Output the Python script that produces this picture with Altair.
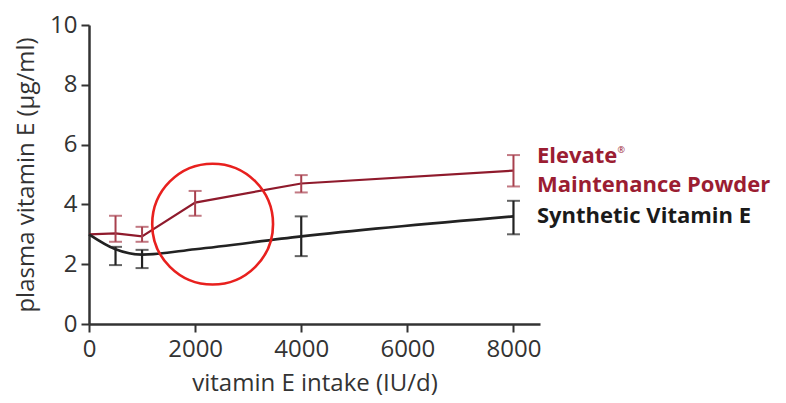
import altair as alt
import pandas as pd

# ---- data ----
doses = [0, 500, 1000, 2000, 4000, 8000]
elevate_line = [3.0, 3.03, 2.93, 4.06, 4.7, 5.13]
synthetic_doses = [0, 500, 1000, 2000, 4000, 8000]
synthetic_line = [3.0, 2.5, 2.32, 2.5, 2.93, 3.6]

err_doses_el = [500, 1000, 2000, 4000, 8000]
elevate_lo = [2.75, 2.75, 3.62, 4.4, 4.6]
elevate_hi = [3.62, 3.25, 4.45, 4.98, 5.65]

err_doses_syn = [500, 1000, 4000, 8000]
synthetic_lo = [1.97, 1.87, 2.27, 3.0]
synthetic_hi = [2.58, 2.48, 3.6, 4.12]

x_ticks = [0, 2000, 4000, 6000, 8000]
y_ticks = [0, 2, 4, 6, 8, 10]

RED = "#8f1a2c"
RED_ERR = "#a8404e"
BLACK = "#222222"
FONT = "Open Sans"

el_df = pd.DataFrame({"dose": doses, "value": elevate_line})
syn_df = pd.DataFrame({"dose": synthetic_doses, "value": synthetic_line})
err_el = pd.DataFrame({"dose": err_doses_el, "lo": elevate_lo, "hi": elevate_hi})
err_syn = pd.DataFrame({"dose": err_doses_syn, "lo": synthetic_lo, "hi": synthetic_hi})

xs = alt.Scale(domain=[0, 8500], nice=False)
ys = alt.Scale(domain=[0, 10], nice=False)

x_axis = alt.Axis(values=x_ticks, format="d", title="vitamin E intake (IU/d)", grid=False,
                  labelFont=FONT, titleFont=FONT, labelFlush=False,
                  labelFontSize=24, titleFontSize=24, titleFontWeight="normal",
                  labelPadding=5, titlePadding=10, tickSize=8)
y_axis = alt.Axis(values=y_ticks, title="plasma vitamin E (µg/ml)", grid=False,
                  labelFont=FONT, titleFont=FONT, labelFlush=False,
                  labelFontSize=24, titleFontSize=24, titleFontWeight="normal",
                  labelPadding=4, titlePadding=11, tickSize=8)

line_el = alt.Chart(el_df).mark_line(interpolate="linear", strokeWidth=2.2, color=RED).encode(
    x=alt.X("dose:Q", scale=xs, axis=x_axis),
    y=alt.Y("value:Q", scale=ys, axis=y_axis),
)
line_syn = alt.Chart(syn_df).mark_line(interpolate="monotone", strokeWidth=2.6, color=BLACK).encode(
    x=alt.X("dose:Q", scale=xs),
    y=alt.Y("value:Q", scale=ys),
)

def errbars(df, color, width):
    c = alt.Chart(df)
    rule = c.mark_rule(color=color, strokeWidth=width).encode(
        x=alt.X("dose:Q", scale=xs), y=alt.Y("lo:Q", scale=ys), y2="hi:Q")
    lo = c.mark_tick(color=color, orient="horizontal", size=13, thickness=2).encode(
        x=alt.X("dose:Q", scale=xs), y=alt.Y("lo:Q", scale=ys))
    hi = c.mark_tick(color=color, orient="horizontal", size=13, thickness=2).encode(
        x=alt.X("dose:Q", scale=xs), y=alt.Y("hi:Q", scale=ys))
    return rule + lo + hi

eb_el = errbars(err_el, RED_ERR, 2)
eb_syn = errbars(err_syn, BLACK, 2.2)

# annotation labels
label_text = ["Elevate", "Maintenance Powder", "Synthetic Vitamin E"]
label_df = pd.DataFrame({
    "text": label_text,
    "x": [8443, 8443, 8443],
    "y": [5.385, 4.415, 3.378],
    "series": ["Elevate", "Elevate", "Synthetic"],
})
labels = alt.Chart(label_df).mark_text(
    align="left", baseline="alphabetic", fontSize=22, fontWeight="bold", font=FONT
).encode(
    x=alt.X("x:Q", scale=xs), y=alt.Y("y:Q", scale=ys), text="text:N",
    color=alt.Color("series:N", scale=alt.Scale(domain=["Elevate", "Synthetic"], range=["#9b1d32", "#1a1a1a"]), legend=None),
)
reg_df = pd.DataFrame({"text": ["®"], "x": [9960], "y": [5.72]})
reg = alt.Chart(reg_df).mark_text(align="left", baseline="alphabetic", fontSize=9,
                                  color="#9b1d32", font=FONT).encode(
    x=alt.X("x:Q", scale=xs), y=alt.Y("y:Q", scale=ys), text="text:N")

circ_df = pd.DataFrame({"x": [2330], "y": [3.34]})
circle = alt.Chart(circ_df).mark_point(shape="circle", size=14600, filled=False,
                                       color="#e8201e", strokeWidth=2.6, opacity=1).encode(
    x=alt.X("x:Q", scale=xs), y=alt.Y("y:Q", scale=ys))

chart = alt.layer(line_el, line_syn, eb_el, eb_syn, labels, reg, circle).properties(
    width=451, height=299,
    autosize=alt.AutoSizeParams(type="none"),
    padding={"left": 81, "top": 17, "right": 237, "bottom": 74},
).configure(
    background="white", font=FONT,
    view=alt.ViewConfig(stroke="transparent"),
    axis=alt.AxisConfig(domainColor="#333333", domainWidth=2.5, tickColor="#333333", tickWidth=2,
                        labelColor="#333333", titleColor="#333333"),
)

chart.save("out.html", embed_options={"renderer": "svg", "actions": False})
